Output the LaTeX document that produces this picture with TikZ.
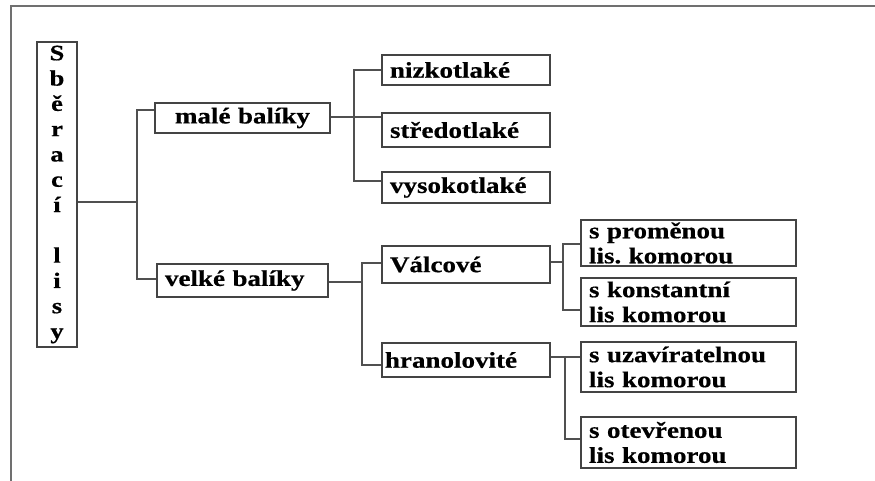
\documentclass[tikz,border=0pt]{standalone}
\usepackage{fontspec}
\newfontfamily\tb{Liberation Serif}[FakeStretch=1.2,FakeBold=0.6]
\definecolor{boxc}{HTML}{444444}
\definecolor{linec}{HTML}{505050}
\definecolor{framec}{HTML}{707070}
\frenchspacing
\tikzset{
  box/.style={draw=boxc, line width=1.2pt, inner xsep=8pt, inner ysep=0pt, align=left,
    font=\tb\bfseries\fontsize{22.5}{25}\selectfont, anchor=center},
  conn/.style={draw=linec, line width=1.1pt},
  frameline/.style={draw=framec, line width=1.1pt}
}
\begin{document}
\begin{tikzpicture}[x=1pt,y=-1pt]
\useasboundingbox (0,0) rectangle (875,481);
% frame
\coordinate (f0) at (11,6);
\coordinate (fr) at (875,6);
\coordinate (fb) at (11,481);
\draw[frameline] (fr) -- (f0) -- (fb);
% root
\node[box, align=center, inner xsep=0pt, minimum width=40pt, minimum height=305pt, text width=40pt,
  font=\tb\bfseries\fontsize{22}{25.3}\selectfont] (root) at (57,194.5)
  {S\\b\\ě\\r\\a\\c\\í\\\mbox{}\\l\\i\\s\\y};
% level 1
\node[box, align=center, minimum width=175pt, minimum height=30pt, text width=159pt] (mb) at (242.5,118) {malé balíky};
\node[box, minimum width=171pt, minimum height=33pt, text width=155pt] (vb) at (242.5,280.5) {velké balíky};
% level 2
\node[box, minimum width=168pt, minimum height=30pt, text width=152pt] (n1) at (466,70) {nizkotlaké};
\node[box, minimum width=168pt, minimum height=34pt, text width=152pt] (n2) at (466,130) {středotlaké};
\node[box, minimum width=168pt, minimum height=31pt, text width=152pt] (n3) at (466,187.5) {vysokotlaké};
\node[box, minimum width=168pt, minimum height=37pt, text width=152pt] (v1) at (466,264.5) {Válcové};
\node[box, inner xsep=3pt, minimum width=168pt, minimum height=34pt, text width=162pt] (v2) at (466,360) {hranolovité};
% level 3
\node[box, minimum width=215pt, minimum height=46pt, text width=199pt] (r1) at (688.5,243) {s proměnou\\lis. komorou};
\node[box, minimum width=215pt, minimum height=48pt, text width=199pt] (r2) at (688.5,302) {s konstantní\\lis komorou};
\node[box, minimum width=215pt, minimum height=50pt, text width=199pt] (r3) at (688.5,367) {s uzavíratelnou\\lis komorou};
\node[box, minimum width=215pt, minimum height=51pt, text width=199pt] (r4) at (688.5,442.5) {s otevřenou\\lis komorou};
% root connectors
\coordinate (rj) at (137,202);
\coordinate (ra) at (137,110);
\coordinate (rb) at (137,279);
\draw[conn] (root.east |- rj) -- (rj);
\draw[conn] (mb.west |- ra) -- (ra) -- (rb) -- (vb.west |- rb);
% male baliky connectors
\coordinate (mj) at (354,117);
\coordinate (ma) at (354,70);
\coordinate (mz) at (354,181);
\draw[conn] (mb.east |- mj) -- (n2.west |- mj);
\draw[conn] (n1.west |- ma) -- (ma) -- (mz) -- (n3.west |- mz);
% velke baliky connectors
\coordinate (vj) at (362,282);
\coordinate (va) at (362,263);
\coordinate (vz) at (362,365);
\draw[conn] (vb.east |- vj) -- (vj);
\draw[conn] (v1.west |- va) -- (va) -- (vz) -- (v2.west |- vz);
% valcove connectors
\coordinate (wj) at (563,262);
\coordinate (wa) at (563,244);
\coordinate (wz) at (563,310);
\draw[conn] (v1.east |- wj) -- (wj);
\draw[conn] (r1.west |- wa) -- (wa) -- (wz) -- (r2.west |- wz);
% hranolovite connectors
\coordinate (ha) at (565,357);
\coordinate (hz) at (565,439);
\draw[conn] (v2.east |- ha) -- (ha) -- (hz) -- (r4.west |- hz);
\draw[conn] (ha) -- (r3.west |- ha);
\end{tikzpicture}
\end{document}
